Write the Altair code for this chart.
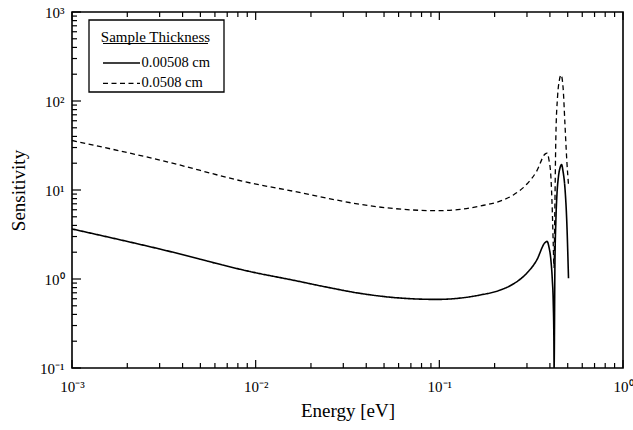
import altair as alt
import pandas as pd

# ---- data ----
energy_thin = [0.001, 0.00301, 0.0099, 0.016, 0.0244, 0.037, 0.0561, 0.0968, 0.1295, 0.166,
               0.214, 0.253, 0.299, 0.339, 0.376, 0.386, 0.395, 0.405, 0.412, 0.417, 0.4205,
               0.4215, 0.426, 0.431, 0.437, 0.445, 0.455, 0.463, 0.472, 0.483, 0.494, 0.505]
sens_thin = [3.65, 2.17, 1.18, 0.97, 0.81, 0.69, 0.62, 0.59, 0.61, 0.66,
             0.75, 0.88, 1.16, 1.63, 2.56, 2.65, 2.3, 1.63, 1.0, 0.55, 0.2,
             0.1, 1.5, 4.5, 9.0, 14.0, 18.0, 19.3, 16.0, 10.5, 4.5, 1.02]

energy_thick = [0.001, 0.00301, 0.0099, 0.016, 0.0244, 0.037, 0.0561, 0.0968, 0.1295, 0.166,
                0.214, 0.253, 0.299, 0.339, 0.376, 0.386, 0.395, 0.405, 0.412, 0.417, 0.421,
                0.425, 0.431, 0.44, 0.45, 0.46, 0.472, 0.483, 0.494, 0.505]
sens_thick = [36.0, 21.7, 11.7, 9.7, 8.1, 6.9, 6.2, 5.85, 6.05, 6.6,
              7.5, 8.8, 11.6, 16.3, 25.3, 26.0, 22.0, 14.0, 6.0, 2.5, 1.35,
              5.0, 40.0, 110.0, 170.0, 196.0, 140.0, 55.0, 22.0, 11.4]

series_names = ["0.00508 cm", "0.0508 cm"]
legend_title = "Sample Thickness"

x_major = [0.001, 0.01, 0.1, 1.0]
x_labels = ["10\u207b\u00b3", "10\u207b\u00b2", "10\u207b\u00b9", "10\u2070"]
y_major = [0.1, 1.0, 10.0, 100.0, 1000.0]
y_labels = ["10\u207b\u00b9", "10\u2070", "10\u00b9", "10\u00b2", "10\u00b3"]
minor_mult = [2, 3, 4, 5, 6, 7, 8, 9]

W, H = 551, 356
FONT = "Liberation Serif"

df = pd.concat([
    pd.DataFrame({"E": energy_thin, "S": sens_thin, "series": series_names[0]}),
    pd.DataFrame({"E": energy_thick, "S": sens_thick, "series": series_names[1]}),
])

def label_expr(values, labels):
    parts = [f"datum.value < {v * 3} ? '{l}'" for v, l in zip(values, labels)]
    return " : ".join(parts) + " : ''"

xscale = alt.Scale(type="log", domain=[0.001, 1.0], nice=False)
yscale = alt.Scale(type="log", domain=[0.1, 1000.0], nice=False)

xaxis = alt.Axis(
    values=x_major, labelExpr=label_expr(x_major, x_labels), ticks=False, domain=False,
    grid=False, labelPadding=11, labelBaseline="top",
    labelFlush=False, labelOverlap=False,
    title="Energy [eV]", titleX=W / 2, titleY=42, titleBaseline="middle", titleAlign="center")
yaxis = alt.Axis(
    values=y_major, labelExpr=label_expr(y_major, y_labels), ticks=False, domain=False,
    grid=False, labelPadding=8, labelAlign="right", labelBaseline="middle",
    labelFlush=False, labelOverlap=False,
    title="Sensitivity", titleX=-54, titleY=178, titleAngle=270, titleBaseline="middle",
    titleAlign="center")

lines = alt.Chart(df).mark_line(color="black", clip=True, interpolate="monotone").encode(
    x=alt.X("E:Q", scale=xscale, axis=xaxis, title="Energy [eV]"),
    y=alt.Y("S:Q", scale=yscale, axis=yaxis, title="Sensitivity"),
    strokeDash=alt.StrokeDash("series:N", scale=alt.Scale(domain=series_names, range=[[1, 0], [5, 3.5]]),
                              legend=None),
    strokeWidth=alt.StrokeWidth("series:N", scale=alt.Scale(domain=series_names, range=[1.6, 1.3]),
                                legend=None),
    detail="series:N",
)

# ---- inward ticks ----
x_minor = [d * m for d in x_major[:-1] for m in minor_mult]
y_minor = [d * m for d in y_major[:-1] for m in minor_mult]

def xticks(vals, y0, y1):
    return alt.Chart(pd.DataFrame({"E": vals})).mark_rule(color="black", strokeWidth=1.2).encode(
        x=alt.X("E:Q", scale=xscale, axis=xaxis, title="Energy [eV]"), y=alt.value(y0), y2=alt.value(y1))

def yticks(vals, x0, x1):
    return alt.Chart(pd.DataFrame({"S": vals})).mark_rule(color="black", strokeWidth=1.2).encode(
        y=alt.Y("S:Q", scale=yscale, axis=yaxis, title="Sensitivity"), x=alt.value(x0), x2=alt.value(x1))

ticks = [
    xticks(x_major, H, H - 8), xticks(x_minor, H, H - 5),
    xticks(x_major, 0, 8), xticks(x_minor, 0, 5),
    yticks(y_major, 0, 9), yticks(y_minor, 0, 5),
]

# ---- legend box ----
box = alt.Chart(pd.DataFrame({"a": [0]})).mark_rect(fill="white", stroke="black", strokeWidth=1.3).encode(
    x=alt.value(17), x2=alt.value(152), y=alt.value(8), y2=alt.value(80))
ttl = alt.Chart(pd.DataFrame({"t": [legend_title]})).mark_text(
    font=FONT, fontSize=15, align="center", baseline="alphabetic", color="black").encode(
    x=alt.value(83.5), y=alt.value(29.5), text="t:N")
underline = alt.Chart(pd.DataFrame({"a": [0]})).mark_rule(color="black", strokeWidth=1).encode(
    x=alt.value(31), x2=alt.value(136), y=alt.value(31.5))
leg_line1 = alt.Chart(pd.DataFrame({"a": [0]})).mark_rule(color="black", strokeWidth=1.6).encode(
    x=alt.value(31), x2=alt.value(68), y=alt.value(51))
leg_line2 = alt.Chart(pd.DataFrame({"a": [0]})).mark_rule(color="black", strokeWidth=1.3,
                                                          strokeDash=[5, 3.5]).encode(
    x=alt.value(31), x2=alt.value(68), y=alt.value(71.3))
leg_txt1 = alt.Chart(pd.DataFrame({"t": [series_names[0]]})).mark_text(
    font=FONT, fontSize=14.5, align="left", baseline="alphabetic", color="black").encode(
    x=alt.value(69.5), y=alt.value(54.7), text="t:N")
leg_txt2 = alt.Chart(pd.DataFrame({"t": [series_names[1]]})).mark_text(
    font=FONT, fontSize=14.5, align="left", baseline="alphabetic", color="black").encode(
    x=alt.value(69.5), y=alt.value(74.7), text="t:N")

chart = alt.layer(lines, *ticks, box, ttl, underline, leg_line1, leg_line2, leg_txt1, leg_txt2).properties(
    width=W, height=H,
    autosize=alt.AutoSizeParams(type="none"),
    padding={"left": 72, "top": 12, "right": 10, "bottom": 62},
    background="white",
).configure(font=FONT).configure_axis(
    labelFont=FONT, labelFontSize=15, labelColor="black",
    titleFont=FONT, titleFontSize=19, titleFontWeight="normal", titleColor="black",
).configure_view(stroke="black", strokeWidth=1.6)

chart.save("out.html", embed_options={"renderer": "svg", "actions": False})
